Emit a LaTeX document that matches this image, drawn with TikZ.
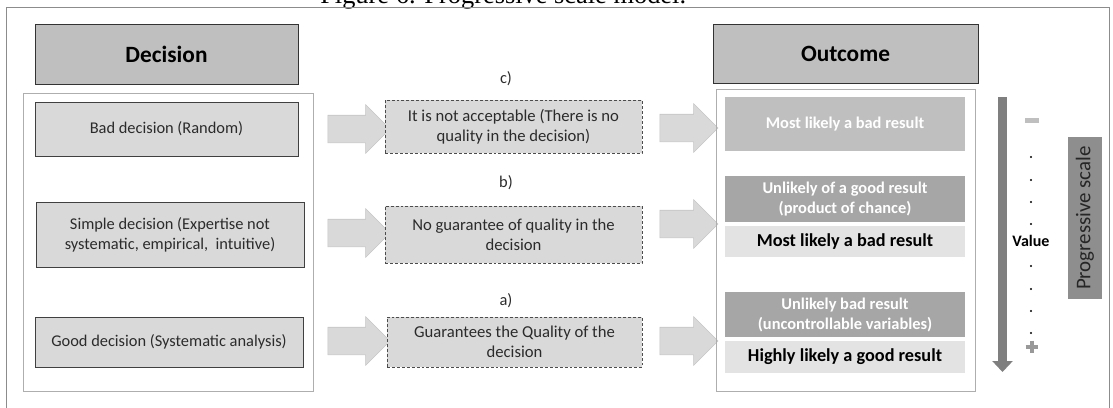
\documentclass[tikz,border=0pt]{standalone}
\usepackage{fontspec}
\setmainfont{Carlito}
\newfontfamily\capfont{Liberation Serif}
\usetikzlibrary{shapes.arrows,arrows.meta}
\definecolor{hdrgray}{HTML}{BFBFBF}
\definecolor{boxgray}{HTML}{D9D9D9}
\definecolor{edgegray}{HTML}{C4C4C4}
\definecolor{midgray}{HTML}{A6A6A6}
\definecolor{palegray}{HTML}{E3E3E3}
\definecolor{bargray}{HTML}{7F7F7F}
\definecolor{scalegray}{HTML}{8E8E8E}
\definecolor{framegray}{HTML}{8C8C8C}
\definecolor{inkgray}{HTML}{2B2B2B}

\begin{document}
\begin{tikzpicture}[x=0.75pt,y=-0.75pt,
  hdrbox/.style={draw=black!80,fill=hdrgray,minimum height=45pt,font=\fontsize{17.5}{20}\selectfont\bfseries},
  decbox/.style={draw=black!75,fill=boxgray,align=center,text=inkgray,font=\fontsize{12.3}{15}\selectfont},
  qualbox/.style={draw=black!70,dash pattern=on 2.2pt off 1.5pt,fill=boxgray,align=center,text=inkgray,
    minimum width=192.75pt,font=\fontsize{12.5}{14.8}\selectfont},
  blockarrow/.style={single arrow,fill=boxgray,draw=edgegray,inner xsep=0pt,inner ysep=10.125pt,
    single arrow head extend=7.875pt,single arrow head indent=0pt},
  resdark/.style={fill=midgray,minimum width=180pt,align=center,text=white,font=\fontsize{12.3}{15}\selectfont\bfseries},
  respale/.style={fill=palegray,minimum width=180pt,align=center,text=black,font=\fontsize{13.7}{15}\selectfont\bfseries},
  lbl/.style={text=inkgray,font=\fontsize{12.3}{15}\selectfont}]
\useasboundingbox (0,0) rectangle (1113,407);

% caption, cut by the page edge
\node[anchor=base west,inner sep=0pt,font=\capfont\fontsize{19.8}{22}\selectfont] (cap) at (320,3) {Figure 6. Progressive scale model.};
\draw[framegray] (6,7) rectangle (1109,412);

% decision column
\node[hdrbox,minimum width=197.25pt] (dec) at (166.5,54) {Decision};
\draw[framegray!70] (23,93) rectangle (313,391);
\node[decbox,minimum width=197.25pt,minimum height=40.5pt] (bad) at (166.5,129) {Bad decision (Random)};
\node[decbox,minimum width=201pt,minimum height=48.75pt] (simple) at (170,234.5) {Simple decision (Expertise not\\systematic, empirical,\ \ intuitive)};
\node[decbox,minimum width=201pt,minimum height=37.5pt] (good) at (169,342) {Good decision (Systematic analysis)};

% quality column
\node[blockarrow,minimum height=46.5pt] (arc1) at (352,129) {};
\node[blockarrow,minimum height=46.5pt] (arb1) at (352,233) {};
\node[blockarrow,minimum height=46.5pt] (ara1) at (352,341) {};
\node[lbl] (labc) at (506,79) {c)};
\node[lbl] (labb) at (506,183) {b)};
\node[lbl] (laba) at (506,301) {a)};
\node[qualbox,minimum height=39.75pt] (qc) at (513.5,126.5) {It is not acceptable (There is no\\quality in the decision)};
\node[qualbox,minimum height=42.75pt] (qb) at (513.5,234.5) {No guarantee of quality in the\\decision};
\node[qualbox,minimum width=191.25pt,minimum height=37.5pt] (qa) at (514.5,342) {Guarantees the Quality of the\\decision};

% outcome column
\node[blockarrow,minimum height=43.5pt] (arc2) at (682,128) {};
\node[blockarrow,minimum height=43.5pt] (arb2) at (682,224) {};
\node[blockarrow,minimum height=43.5pt] (ara2) at (682,341) {};
\node[hdrbox,minimum width=198.75pt,minimum height=44.25pt] (out) at (845.5,53.5) {Outcome};
\draw[framegray!70] (716,89) rectangle (975,391);
\node[resdark,fill=hdrgray,minimum height=40.5pt] (rc) at (845,124) {Most likely a bad result};
\node[resdark,minimum height=34.5pt] (rbtop) at (845,199) {Unlikely of a good result\\(product of chance)};
\node[respale,minimum height=23.25pt] (rbbot) at (845,241.5) {Most likely a bad result};
\node[resdark,minimum height=33.75pt] (ratop) at (845,314.5) {Unlikely bad result\\(uncontrollable variables)};
\node[respale,minimum height=24pt] (rabot) at (845,357) {Highly likely a good result};

% value scale
\coordinate (vtop) at (1002.5,97);
\coordinate (vtip) at (1002.5,372);
\draw[bargray,line width=6.75pt,-{Triangle[length=8.25pt,width=15pt]}] (vtop) -- (vtip);
\node[fill=hdrgray,minimum width=10.5pt,minimum height=3.75pt,inner sep=0pt] (minus) at (1032,120) {};
\foreach \y in {157,180,202,224,266,289,311,333}
  \fill (1031,\y) circle[radius=1.1];
\node[font=\fontsize{12}{14}\selectfont\bfseries] (val) at (1031,241) {Value};
\node[inner sep=0pt,minimum size=9pt] (plus) at (1032,347) {};
\draw[hdrgray!80!black,line width=3pt] (plus.north) -- (plus.south) (plus.west) -- (plus.east);
\node[fill=scalegray,rotate=90,minimum width=121.5pt,minimum height=25.5pt,text=black!85,
  font=\fontsize{15.7}{18}\selectfont] (prog) at (1085,218) {Progressive scale};
\end{tikzpicture}
\end{document}
